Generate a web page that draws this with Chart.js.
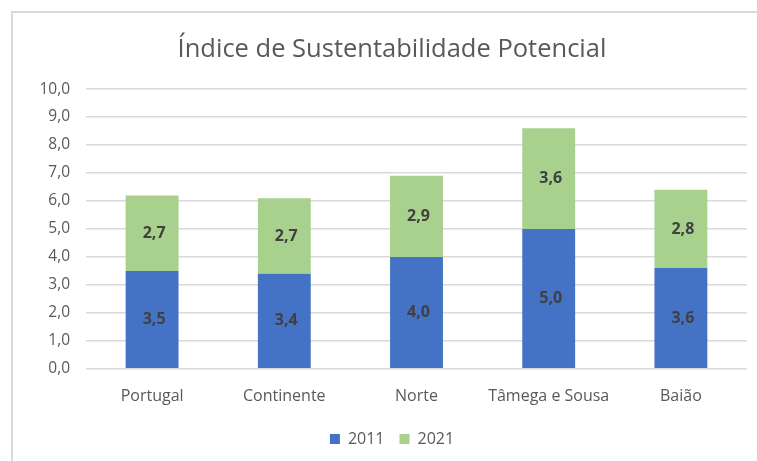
<!DOCTYPE html>
<html>
<head>
<meta charset="utf-8">
<script src="https://cdn.jsdelivr.net/npm/chart.js@4.4.1/dist/chart.umd.min.js"></script>
<style>
html,body{margin:0;padding:0;background:#fff;}
#wrap{position:relative;width:757px;height:461px;overflow:hidden;}
#frame{position:absolute;left:11px;top:11px;width:800px;height:500px;border:2px solid #d9d9d9;box-sizing:border-box;}
canvas{position:absolute;left:0;top:0;}
</style>
</head>
<body>
<div id="wrap"><div id="frame"></div><canvas id="c" width="757" height="461"></canvas></div>
<script>
const categories = ["Portugal", "Continente", "Norte", "Tâmega e Sousa", "Baião"];
const series2011 = [3.5, 3.4, 4.0, 5.0, 3.6];
const series2021 = [2.7, 2.7, 2.9, 3.6, 2.8];
const seriesNames = ["2011", "2021"];
const chartTitle = "Índice de Sustentabilidade Potencial";
const yMin = 0, yMax = 10, yStep = 1;

const fmt = v => v.toFixed(1).replace('.', ',');
const FONT = "'Open Sans', sans-serif";

const labelPlugin = {
  id: 'segLabels',
  afterDatasetsDraw(chart) {
    const ctx = chart.ctx;
    ctx.save();
    ctx.font = "bold 16px " + FONT;
    ctx.fillStyle = '#404040';
    ctx.textAlign = 'center';
    ctx.textBaseline = 'middle';
    chart.data.datasets.forEach((ds, di) => {
      const meta = chart.getDatasetMeta(di);
      meta.data.forEach((bar, i) => {
        const y = (bar.y + bar.base) / 2;
        ctx.fillText(fmt(ds.data[i]), bar.x + 2, y);
      });
    });
    ctx.restore();
  }
};

new Chart(document.getElementById('c'), {
  type: 'bar',
  data: {
    labels: categories,
    datasets: [
      { label: seriesNames[0], data: series2011, backgroundColor: '#4472C4', borderWidth: 0 },
      { label: seriesNames[1], data: series2021, backgroundColor: '#A9D18E', borderWidth: 0 }
    ]
  },
  options: {
    responsive: false,
    animation: false,
    layout: { padding: { left: 37, right: 10, top: 34, bottom: 4 } },
    datasets: { bar: { categoryPercentage: 0.4, barPercentage: 1.0 } },
    plugins: {
      title: {
        display: true, text: chartTitle, color: '#595959',
        font: { family: FONT, size: 25.5, weight: 'normal' },
        padding: { top: 0, bottom: 24.5 }
      },
      legend: {
        position: 'bottom',
        labels: {
          color: '#595959', font: { family: FONT, size: 16 },
          boxWidth: 10, boxHeight: 10, padding: 15
        }
      },
      tooltip: { enabled: false }
    },
    scales: {
      x: {
        stacked: true,
        grid: { display: false },
        border: { display: false },
        ticks: { color: '#595959', font: { family: FONT, size: 16 }, padding: 10, maxRotation: 0 }
      },
      y: {
        stacked: true, min: yMin, max: yMax,
        grid: { color: '#d9d9d9', lineWidth: 1.5, drawTicks: false },
        border: { display: false },
        ticks: { stepSize: yStep, color: '#595959', font: { family: FONT, size: 15.5 }, padding: 16,
                 callback: v => fmt(v) },
        afterFit(s) { s.width = 49; }
      }
    }
  },
  plugins: [labelPlugin]
});
</script>
</body>
</html>
